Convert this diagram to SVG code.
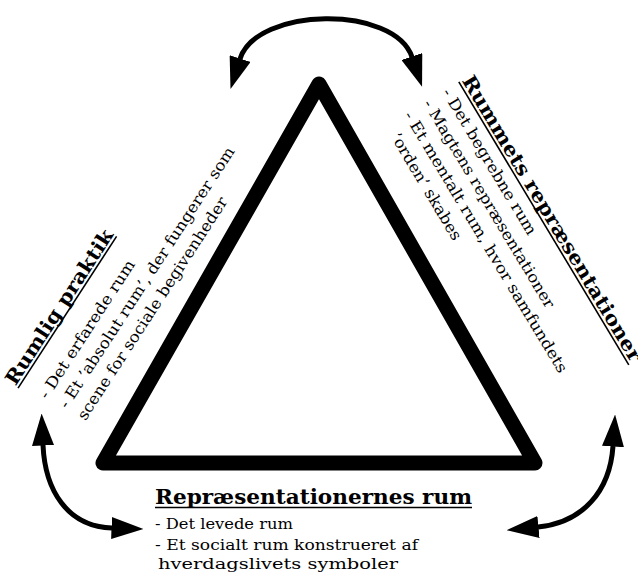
<svg xmlns="http://www.w3.org/2000/svg" width="638" height="576" viewBox="0 0 638 576">
<style>
.t{font-family:"DejaVu Serif","Liberation Serif",serif;font-size:15.5px;fill:#000}
.h{font-family:"DejaVu Serif","Liberation Serif",serif;font-size:19.5px;font-weight:bold;fill:#000}
.ul{stroke:#000;stroke-width:1.6}
.arr{fill:none;stroke:#000;stroke-width:5;marker-start:url(#ah);marker-end:url(#ah)}
</style>
<defs>
<marker id="ah" markerUnits="userSpaceOnUse" markerWidth="32" markerHeight="22" viewBox="0 0 32 22" refX="0.5" refY="11" orient="auto-start-reverse">
<path d="M0,0 L32,11 L0,22 Z" fill="#000"/>
</marker>
</defs>
<rect width="638" height="576" fill="#fff"/>
<g id="triangle">
<polygon points="319,84 103,463 535,463" fill="none" stroke="#000" stroke-width="15" stroke-linejoin="round"/>
</g>
<g id="connectors">
<path class="arr" d="M240,59 C256.5,6.8 394.4,4.8 412,57"/>
<path class="arr" d="M43,445 C45,490 67,526.6 112,528"/>
<path class="arr" d="M538,527 C583,522.5 610,491 613,446"/>
</g>
<g id="node-bottom">
<text class="h" x="155" y="504" textLength="317" lengthAdjust="spacingAndGlyphs">Repræsentationernes rum</text>
<line class="ul" x1="155" y1="507.5" x2="472" y2="507.5"/>
<text class="t" x="155" y="529" textLength="138" lengthAdjust="spacingAndGlyphs">- Det levede rum</text>
<text class="t" x="155" y="549.5" textLength="263" lengthAdjust="spacingAndGlyphs">- Et socialt rum konstrueret af</text>
<text class="t" x="158" y="569" textLength="240" lengthAdjust="spacingAndGlyphs">hverdagslivets symboler</text>
</g>
<g id="node-left" transform="translate(15.5,386.5) rotate(-57)">
<text class="h" x="0" y="0" textLength="181" lengthAdjust="spacingAndGlyphs">Rumlig praktik</text>
<line class="ul" x1="0" y1="3" x2="181" y2="3"/>
<text class="t" x="6" y="34" textLength="162" lengthAdjust="spacingAndGlyphs">- Det erfarede rum</text>
<text class="t" x="9" y="56" textLength="308" lengthAdjust="spacingAndGlyphs">- Et ’absolut rum’, der fungerer som</text>
<text class="t" x="9" y="77.5" textLength="262" lengthAdjust="spacingAndGlyphs">scene for sociale begivenheder</text>
</g>
<g id="node-right" transform="translate(461.4,80.4) rotate(59)">
<text class="h" x="0" y="0" textLength="330" lengthAdjust="spacingAndGlyphs">Rummets repræsentationer</text>
<line class="ul" x1="0" y1="3" x2="330" y2="3"/>
<text class="t" x="0" y="23" textLength="168" lengthAdjust="spacingAndGlyphs">- Det begrebne rum</text>
<text class="t" x="0" y="45" textLength="240" lengthAdjust="spacingAndGlyphs">- Magtens repræsentationer</text>
<text class="t" x="0" y="67.5" textLength="302" lengthAdjust="spacingAndGlyphs">- Et mentalt rum, hvor samfundets</text>
<text class="t" x="12" y="90" textLength="122" lengthAdjust="spacingAndGlyphs">’orden’ skabes</text>
</g>
</svg>
